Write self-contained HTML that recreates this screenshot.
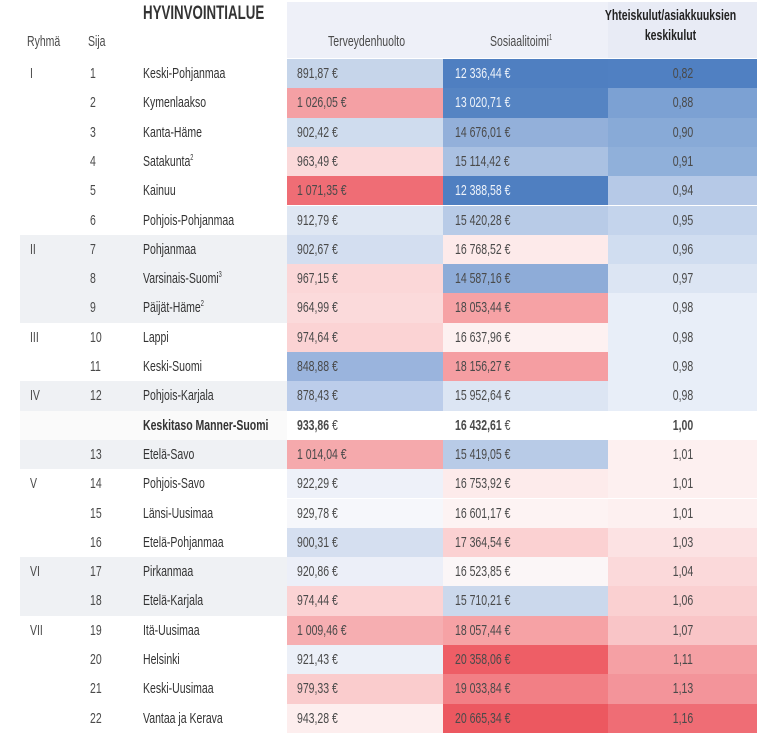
<!DOCTYPE html><html><head><meta charset="utf-8"><style>
body{margin:0;width:768px;height:739px;background:#fff;position:relative;overflow:hidden;font-family:"Liberation Sans",sans-serif;color:#4a4a4a}
.a{position:absolute}
.t{position:absolute;font-size:15px;white-space:nowrap;transform:scaleX(0.7);transform-origin:left center;line-height:29px}
.c{transform-origin:center center;text-align:center}
.r{position:absolute;height:29.3px}
sup{font-size:8px;line-height:0}
</style></head><body>
<div class="a" style="left:287px;top:2px;width:156px;height:56px;background:#eef0f8"></div>
<div class="a" style="left:443px;top:2px;width:165px;height:56px;background:#eef0f8"></div>
<div class="a" style="left:608px;top:2px;width:149px;height:56px;background:#e8ebf5"></div>
<div class="t" style="left:143px;top:-1px;font-size:19px;font-weight:bold;color:#333">HYVINVOINTIALUE</div>
<div class="t" style="left:27px;top:27px">Ryhmä</div>
<div class="t" style="left:88px;top:27px">Sija</div>
<div class="t" style="left:328px;top:27px">Terveydenhuolto</div>
<div class="t" style="left:490px;top:27px">Sosiaalitoimi<sup>1</sup></div>
<div class="t" style="left:597px;top:6px;width:210px;font-weight:bold;line-height:20px;text-align:center;color:#222">Yhteiskulut/asiakkuuksien<br>keskikulut</div>
<div id="rows"></div>
<script>
var d=[
["I",1,"Keski-Pohjanmaa","891,87","#c6d5ea","12 336,44","#4f7fc1","0,82","#5080c2",0],
["",2,"Kymenlaakso","1 026,05","#f4a0a4","13 020,71","#5584c3","0,88","#7ca1d3",0],
["",3,"Kanta-Häme","902,42","#cfdcee","14 676,01","#93b0da","0,90","#88aad7",0],
["",4,"Satakunta<sup>2</sup>","963,49","#fbd9da","15 114,42","#aac1e2","0,91","#90b0da",0],
["",5,"Kainuu","1 071,35","#ef6d75","12 388,58","#4f7fc1","0,94","#b6c9e7",0],
["",6,"Pohjois-Pohjanmaa","912,79","#dfe7f3","15 420,28","#b8cbe7","0,95","#c4d4ec",0],
["II",7,"Pohjanmaa","902,67","#d3def0","16 768,52","#fdeaea","0,96","#d0ddf0",1],
["",8,"Varsinais-Suomi<sup>3</sup>","967,15","#fbd7d8","14 587,16","#8eacd8","0,97","#dce5f3",1],
["",9,"Päijät-Häme<sup>2</sup>","964,99","#fbdadb","18 053,44","#f6a2a5","0,98","#e8eef8",1],
["III",10,"Lappi","974,64","#fbd3d4","16 637,96","#fdf1f1","0,98","#e8eef8",0],
["",11,"Keski-Suomi","848,88","#9ab4dd","18 156,27","#f59ea2","0,98","#e8eef8",0],
["IV",12,"Pohjois-Karjala","878,43","#bccdea","15 952,64","#dce5f3","0,98","#e8eef8",1],
["","","<b>Keskitaso Manner-Suomi</b>","<b>933,86</b>","#fff","<b>16 432,61</b>","#fff","<b>1,00</b>","#fff",2],
["",13,"Etelä-Savo","1 014,04","#f5a9ac","15 419,05","#b8cbe7","1,01","#fdf0f0",1],
["V",14,"Pohjois-Savo","922,29","#eef1f9","16 753,92","#fdebeb","1,01","#fdf0f0",0],
["",15,"Länsi-Uusimaa","929,78","#f6f7fb","16 601,17","#fdf3f3","1,01","#fdf0f0",0],
["",16,"Etelä-Pohjanmaa","900,31","#d5dff0","17 364,54","#fbd1d2","1,03","#fce2e3",0],
["VI",17,"Pirkanmaa","920,86","#eceff8","16 523,85","#fbf6f7","1,04","#fbd9da",1],
["",18,"Etelä-Karjala","974,44","#fbd3d4","15 710,21","#cbd8ec","1,06","#fad0d1",1],
["VII",19,"Itä-Uusimaa","1 009,46","#f6aeb1","18 057,44","#f6a2a5","1,07","#f9c5c7",0],
["",20,"Helsinki","921,43","#ecf0f8","20 358,06","#ee5e66","1,11","#f5a0a4",0],
["",21,"Keski-Uusimaa","979,33","#facccd","19 033,84","#f27f85","1,13","#f3949a",0],
["",22,"Vantaa ja Kerava","943,28","#fdeeee","20 665,34","#ec5860","1,16","#ef6d75",0]];
var h="";
d.forEach(function(r,i){var y=59+i*29.3;
var lc=r[9]==1?"#eff1f4":(r[9]==2?"#fafafa":"#fff");
if(r[9]!=0)h+='<div class="r" style="left:20px;width:267px;top:'+y+'px;background:'+lc+'"></div>';
h+='<div class="r" style="left:287px;width:156px;top:'+y+'px;background:'+r[4]+'"></div>';
h+='<div class="r" style="left:443px;width:165px;top:'+y+'px;background:'+r[6]+'"></div>';
h+='<div class="r" style="left:608px;width:149px;top:'+y+'px;background:'+r[8]+'"></div>';
var wc=function(c){return (c=="#4f7fc1"||c=="#5584c3")?"#eef3fa":"#4a4a4a"};
h+='<div class="t" style="left:30px;top:'+y+'px">'+r[0]+'</div>';
h+='<div class="t" style="left:90px;top:'+y+'px">'+r[1]+'</div>';
h+='<div class="t" style="left:143px;top:'+y+'px;color:#333">'+r[2]+'</div>';
h+='<div class="t" style="left:297px;top:'+y+'px">'+r[3]+' €</div>';
h+='<div class="t" style="left:455px;top:'+y+'px;color:'+wc(r[6])+'">'+r[5]+' €</div>';
h+='<div class="t c" style="left:633px;width:100px;top:'+y+'px">'+r[7]+'</div>';
});
document.getElementById("rows").innerHTML=h;
</script>
</body></html>
